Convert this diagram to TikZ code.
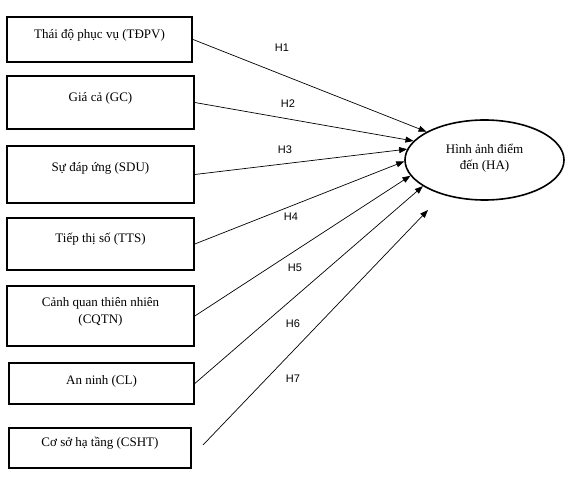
\documentclass[tikz,border=0pt]{standalone}
\usepackage{fontspec}
\setmainfont{Liberation Serif}
\newfontfamily\lblfont{Liberation Sans}
\usetikzlibrary{shapes.geometric,arrows.meta}
\tikzset{
  box/.style={draw, line width=1.6pt, inner sep=2pt, align=center, text depth=12pt, font=\fontsize{13}{17}\selectfont},
  target/.style={draw, ellipse, line width=1.6pt, inner sep=0pt, minimum width=159pt, minimum height=80pt, align=center, text depth=7pt, font=\fontsize{13}{16}\selectfont},
  link/.style={line width=0.7pt, -{Triangle[length=8pt,width=6pt]}},
  hlabel/.style={font=\lblfont\fontsize{11}{13}\selectfont}
}
\begin{document}
\begin{tikzpicture}[x=1pt,y=-1pt]
\useasboundingbox (0,0) rectangle (568,492);
\node[box, minimum width=185.5pt, minimum height=44.5pt] (b1) at (99.5,39.5) {Thái độ phục vụ (TĐPV)};
\node[box, minimum width=187pt, minimum height=53pt] (b2) at (100.5,102.5) {Giá cả (GC)};
\node[box, minimum width=187pt, minimum height=57pt, text depth=16pt] (b3) at (100.5,174.5) {Sự đáp ứng (SDU)};
\node[box, minimum width=187pt, minimum height=52pt] (b4) at (100.5,244) {Tiếp thị số (TTS)};
\node[box, minimum width=187pt, minimum height=60pt] (b5) at (100.5,316) {Cảnh quan thiên nhiên\\(CQTN)};
\node[box, minimum width=185pt, minimum height=41pt, text depth=8pt] (b6) at (101.5,383.5) {An ninh (CL)};
\node[box, minimum width=182pt, minimum height=40pt] (b7) at (100,448) {Cơ sở hạ tầng (CSHT)};
\node[target] (ha) at (484.5,160) {Hình ảnh điểm\\đến (HA)};
\coordinate (s7) at (203,445);
\coordinate (e7) at (428,210);
\draw[link] (b1.east) -- (ha.154);
\draw[link] (b2.east) -- (ha.165);
\draw[link] (b3.east) -- (ha.172);
\draw[link] (b4.east) -- (ha.181);
\draw[link] (b5.east) -- (ha.192);
\draw[link] (b6.east) -- (ha.203);
\draw[link] (s7) -- (e7);
\node[hlabel] (h1) at (282,48) {H1};
\node[hlabel] (h2) at (288,104) {H2};
\node[hlabel] (h3) at (285,150) {H3};
\node[hlabel] (h4) at (291,217) {H4};
\node[hlabel] (h5) at (295,268) {H5};
\node[hlabel] (h6) at (293,324) {H6};
\node[hlabel] (h7) at (293,379) {H7};
\end{tikzpicture}
\end{document}
